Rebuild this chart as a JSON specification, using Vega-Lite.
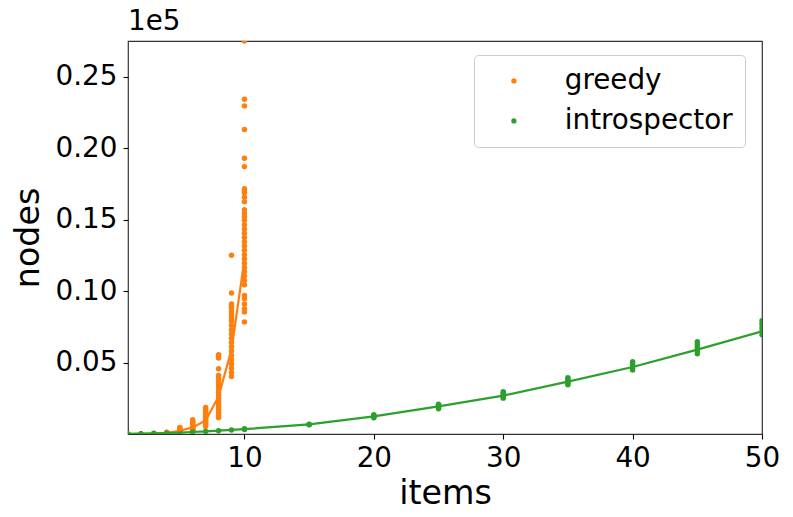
{
  "$schema": "https://vega.github.io/schema/vega-lite/v6.json",
  "width": 634,
  "height": 393,
  "autosize": {"type": "none"},
  "padding": {"left": 128, "top": 41, "right": 31, "bottom": 83},
  "background": "white",
  "config": {
    "font": "DejaVu Sans",
    "view": {"stroke": "#333333", "strokeWidth": 1.2},
    "axis": {
      "grid": false,
      "domain": false,
      "tickColor": "#000000",
      "tickWidth": 1.1,
      "tickSize": 5,
      "labelFont": "DejaVu Sans",
      "labelFontSize": 27.8,
      "labelColor": "#000000",
      "titleFont": "DejaVu Sans",
      "titleFontSize": 33.3,
      "titleFontWeight": "normal",
      "titleColor": "#000000"
    },
    "title": {
      "font": "DejaVu Sans",
      "fontSize": 27.8,
      "fontWeight": "normal",
      "color": "#000000",
      "anchor": "start",
      "frame": "group",
      "baseline": "alphabetic",
      "offset": 5
    }
  },
  "title": {"text": "1e5"},
  "datasets": {
    "points": [
      {"items": 1, "nodes": 1, "algo": "greedy"},
      {"items": 2, "nodes": 3, "algo": "greedy"},
      {"items": 2, "nodes": 5, "algo": "greedy"},
      {"items": 3, "nodes": 10, "algo": "greedy"},
      {"items": 3, "nodes": 15, "algo": "greedy"},
      {"items": 3, "nodes": 20, "algo": "greedy"},
      {"items": 4, "nodes": 40, "algo": "greedy"},
      {"items": 4, "nodes": 60, "algo": "greedy"},
      {"items": 4, "nodes": 80, "algo": "greedy"},
      {"items": 4, "nodes": 100, "algo": "greedy"},
      {"items": 4, "nodes": 130, "algo": "greedy"},
      {"items": 5, "nodes": 150, "algo": "greedy"},
      {"items": 5, "nodes": 180, "algo": "greedy"},
      {"items": 5, "nodes": 220, "algo": "greedy"},
      {"items": 5, "nodes": 260, "algo": "greedy"},
      {"items": 5, "nodes": 300, "algo": "greedy"},
      {"items": 5, "nodes": 350, "algo": "greedy"},
      {"items": 5, "nodes": 420, "algo": "greedy"},
      {"items": 5, "nodes": 460, "algo": "greedy"},
      {"items": 6, "nodes": 180, "algo": "greedy"},
      {"items": 6, "nodes": 250, "algo": "greedy"},
      {"items": 6, "nodes": 300, "algo": "greedy"},
      {"items": 6, "nodes": 350, "algo": "greedy"},
      {"items": 6, "nodes": 400, "algo": "greedy"},
      {"items": 6, "nodes": 450, "algo": "greedy"},
      {"items": 6, "nodes": 500, "algo": "greedy"},
      {"items": 6, "nodes": 550, "algo": "greedy"},
      {"items": 6, "nodes": 600, "algo": "greedy"},
      {"items": 6, "nodes": 650, "algo": "greedy"},
      {"items": 6, "nodes": 700, "algo": "greedy"},
      {"items": 6, "nodes": 800, "algo": "greedy"},
      {"items": 6, "nodes": 900, "algo": "greedy"},
      {"items": 6, "nodes": 1000, "algo": "greedy"},
      {"items": 7, "nodes": 530, "algo": "greedy"},
      {"items": 7, "nodes": 650, "algo": "greedy"},
      {"items": 7, "nodes": 750, "algo": "greedy"},
      {"items": 7, "nodes": 850, "algo": "greedy"},
      {"items": 7, "nodes": 950, "algo": "greedy"},
      {"items": 7, "nodes": 1050, "algo": "greedy"},
      {"items": 7, "nodes": 1150, "algo": "greedy"},
      {"items": 7, "nodes": 1250, "algo": "greedy"},
      {"items": 7, "nodes": 1350, "algo": "greedy"},
      {"items": 7, "nodes": 1450, "algo": "greedy"},
      {"items": 7, "nodes": 1550, "algo": "greedy"},
      {"items": 7, "nodes": 1650, "algo": "greedy"},
      {"items": 7, "nodes": 1750, "algo": "greedy"},
      {"items": 7, "nodes": 1860, "algo": "greedy"},
      {"items": 8, "nodes": 1140, "algo": "greedy"},
      {"items": 8, "nodes": 1300, "algo": "greedy"},
      {"items": 8, "nodes": 1500, "algo": "greedy"},
      {"items": 8, "nodes": 1700, "algo": "greedy"},
      {"items": 8, "nodes": 1900, "algo": "greedy"},
      {"items": 8, "nodes": 2100, "algo": "greedy"},
      {"items": 8, "nodes": 2300, "algo": "greedy"},
      {"items": 8, "nodes": 2500, "algo": "greedy"},
      {"items": 8, "nodes": 2700, "algo": "greedy"},
      {"items": 8, "nodes": 2900, "algo": "greedy"},
      {"items": 8, "nodes": 3100, "algo": "greedy"},
      {"items": 8, "nodes": 3300, "algo": "greedy"},
      {"items": 8, "nodes": 3500, "algo": "greedy"},
      {"items": 8, "nodes": 3700, "algo": "greedy"},
      {"items": 8, "nodes": 3900, "algo": "greedy"},
      {"items": 8, "nodes": 4100, "algo": "greedy"},
      {"items": 8, "nodes": 4570, "algo": "greedy"},
      {"items": 8, "nodes": 5320, "algo": "greedy"},
      {"items": 8, "nodes": 5450, "algo": "greedy"},
      {"items": 8, "nodes": 5550, "algo": "greedy"},
      {"items": 9, "nodes": 4030, "algo": "greedy"},
      {"items": 9, "nodes": 4300, "algo": "greedy"},
      {"items": 9, "nodes": 4600, "algo": "greedy"},
      {"items": 9, "nodes": 4900, "algo": "greedy"},
      {"items": 9, "nodes": 5200, "algo": "greedy"},
      {"items": 9, "nodes": 5500, "algo": "greedy"},
      {"items": 9, "nodes": 5800, "algo": "greedy"},
      {"items": 9, "nodes": 6100, "algo": "greedy"},
      {"items": 9, "nodes": 6400, "algo": "greedy"},
      {"items": 9, "nodes": 6700, "algo": "greedy"},
      {"items": 9, "nodes": 7000, "algo": "greedy"},
      {"items": 9, "nodes": 7300, "algo": "greedy"},
      {"items": 9, "nodes": 7600, "algo": "greedy"},
      {"items": 9, "nodes": 7900, "algo": "greedy"},
      {"items": 9, "nodes": 8120, "algo": "greedy"},
      {"items": 9, "nodes": 8350, "algo": "greedy"},
      {"items": 9, "nodes": 8560, "algo": "greedy"},
      {"items": 9, "nodes": 8820, "algo": "greedy"},
      {"items": 9, "nodes": 8950, "algo": "greedy"},
      {"items": 9, "nodes": 9100, "algo": "greedy"},
      {"items": 9, "nodes": 9870, "algo": "greedy"},
      {"items": 9, "nodes": 12500, "algo": "greedy"},
      {"items": 10, "nodes": 7840, "algo": "greedy"},
      {"items": 10, "nodes": 8540, "algo": "greedy"},
      {"items": 10, "nodes": 8770, "algo": "greedy"},
      {"items": 10, "nodes": 9100, "algo": "greedy"},
      {"items": 10, "nodes": 9470, "algo": "greedy"},
      {"items": 10, "nodes": 9700, "algo": "greedy"},
      {"items": 10, "nodes": 10450, "algo": "greedy"},
      {"items": 10, "nodes": 10750, "algo": "greedy"},
      {"items": 10, "nodes": 11050, "algo": "greedy"},
      {"items": 10, "nodes": 11350, "algo": "greedy"},
      {"items": 10, "nodes": 11650, "algo": "greedy"},
      {"items": 10, "nodes": 11950, "algo": "greedy"},
      {"items": 10, "nodes": 12250, "algo": "greedy"},
      {"items": 10, "nodes": 12550, "algo": "greedy"},
      {"items": 10, "nodes": 12850, "algo": "greedy"},
      {"items": 10, "nodes": 13150, "algo": "greedy"},
      {"items": 10, "nodes": 13450, "algo": "greedy"},
      {"items": 10, "nodes": 13750, "algo": "greedy"},
      {"items": 10, "nodes": 14050, "algo": "greedy"},
      {"items": 10, "nodes": 14350, "algo": "greedy"},
      {"items": 10, "nodes": 14650, "algo": "greedy"},
      {"items": 10, "nodes": 14950, "algo": "greedy"},
      {"items": 10, "nodes": 15200, "algo": "greedy"},
      {"items": 10, "nodes": 15440, "algo": "greedy"},
      {"items": 10, "nodes": 15700, "algo": "greedy"},
      {"items": 10, "nodes": 16260, "algo": "greedy"},
      {"items": 10, "nodes": 16560, "algo": "greedy"},
      {"items": 10, "nodes": 16890, "algo": "greedy"},
      {"items": 10, "nodes": 17030, "algo": "greedy"},
      {"items": 10, "nodes": 17170, "algo": "greedy"},
      {"items": 10, "nodes": 18710, "algo": "greedy"},
      {"items": 10, "nodes": 19290, "algo": "greedy"},
      {"items": 10, "nodes": 21300, "algo": "greedy"},
      {"items": 10, "nodes": 22960, "algo": "greedy"},
      {"items": 10, "nodes": 23420, "algo": "greedy"},
      {"items": 10, "nodes": 27500, "algo": "greedy"},
      {"items": 1, "nodes": 9, "algo": "introspector"},
      {"items": 2, "nodes": 24, "algo": "introspector"},
      {"items": 3, "nodes": 45, "algo": "introspector"},
      {"items": 4, "nodes": 71, "algo": "introspector"},
      {"items": 5, "nodes": 102, "algo": "introspector"},
      {"items": 6, "nodes": 139, "algo": "introspector"},
      {"items": 7, "nodes": 181, "algo": "introspector"},
      {"items": 8, "nodes": 230, "algo": "introspector"},
      {"items": 9, "nodes": 283, "algo": "introspector"},
      {"items": 10, "nodes": 320, "algo": "introspector"},
      {"items": 10, "nodes": 360, "algo": "introspector"},
      {"items": 15, "nodes": 650, "algo": "introspector"},
      {"items": 15, "nodes": 670, "algo": "introspector"},
      {"items": 15, "nodes": 690, "algo": "introspector"},
      {"items": 20, "nodes": 1140, "algo": "introspector"},
      {"items": 20, "nodes": 1190, "algo": "introspector"},
      {"items": 20, "nodes": 1240, "algo": "introspector"},
      {"items": 20, "nodes": 1290, "algo": "introspector"},
      {"items": 20, "nodes": 1350, "algo": "introspector"},
      {"items": 25, "nodes": 1770, "algo": "introspector"},
      {"items": 25, "nodes": 1850, "algo": "introspector"},
      {"items": 25, "nodes": 1930, "algo": "introspector"},
      {"items": 25, "nodes": 2010, "algo": "introspector"},
      {"items": 25, "nodes": 2090, "algo": "introspector"},
      {"items": 30, "nodes": 2510, "algo": "introspector"},
      {"items": 30, "nodes": 2620, "algo": "introspector"},
      {"items": 30, "nodes": 2730, "algo": "introspector"},
      {"items": 30, "nodes": 2850, "algo": "introspector"},
      {"items": 30, "nodes": 2960, "algo": "introspector"},
      {"items": 35, "nodes": 3450, "algo": "introspector"},
      {"items": 35, "nodes": 3570, "algo": "introspector"},
      {"items": 35, "nodes": 3690, "algo": "introspector"},
      {"items": 35, "nodes": 3820, "algo": "introspector"},
      {"items": 35, "nodes": 3940, "algo": "introspector"},
      {"items": 40, "nodes": 4470, "algo": "introspector"},
      {"items": 40, "nodes": 4620, "algo": "introspector"},
      {"items": 40, "nodes": 4760, "algo": "introspector"},
      {"items": 40, "nodes": 4910, "algo": "introspector"},
      {"items": 40, "nodes": 5060, "algo": "introspector"},
      {"items": 45, "nodes": 5620, "algo": "introspector"},
      {"items": 45, "nodes": 5830, "algo": "introspector"},
      {"items": 45, "nodes": 6040, "algo": "introspector"},
      {"items": 45, "nodes": 6250, "algo": "introspector"},
      {"items": 45, "nodes": 6460, "algo": "introspector"},
      {"items": 50, "nodes": 6950, "algo": "introspector"},
      {"items": 50, "nodes": 7200, "algo": "introspector"},
      {"items": 50, "nodes": 7440, "algo": "introspector"},
      {"items": 50, "nodes": 7690, "algo": "introspector"},
      {"items": 50, "nodes": 7930, "algo": "introspector"}
    ],
    "lines": [
      {"items": 1, "nodes": 1, "algo": "greedy"},
      {"items": 2, "nodes": 4, "algo": "greedy"},
      {"items": 3, "nodes": 15, "algo": "greedy"},
      {"items": 4, "nodes": 80, "algo": "greedy"},
      {"items": 5, "nodes": 230, "algo": "greedy"},
      {"items": 6, "nodes": 460, "algo": "greedy"},
      {"items": 7, "nodes": 950, "algo": "greedy"},
      {"items": 8, "nodes": 2630, "algo": "greedy"},
      {"items": 9, "nodes": 5900, "algo": "greedy"},
      {"items": 10, "nodes": 12200, "algo": "greedy"},
      {"items": 1, "nodes": 9, "algo": "introspector"},
      {"items": 2, "nodes": 24, "algo": "introspector"},
      {"items": 3, "nodes": 45, "algo": "introspector"},
      {"items": 4, "nodes": 71, "algo": "introspector"},
      {"items": 5, "nodes": 102, "algo": "introspector"},
      {"items": 6, "nodes": 139, "algo": "introspector"},
      {"items": 7, "nodes": 181, "algo": "introspector"},
      {"items": 8, "nodes": 230, "algo": "introspector"},
      {"items": 9, "nodes": 283, "algo": "introspector"},
      {"items": 10, "nodes": 342, "algo": "introspector"},
      {"items": 15, "nodes": 670, "algo": "introspector"},
      {"items": 20, "nodes": 1230, "algo": "introspector"},
      {"items": 25, "nodes": 1930, "algo": "introspector"},
      {"items": 30, "nodes": 2680, "algo": "introspector"},
      {"items": 35, "nodes": 3660, "algo": "introspector"},
      {"items": 40, "nodes": 4690, "algo": "introspector"},
      {"items": 45, "nodes": 5900, "algo": "introspector"},
      {"items": 50, "nodes": 7180, "algo": "introspector"}
    ]
  },
  "encoding": {
    "x": {
      "field": "items",
      "type": "quantitative",
      "scale": {"domain": [1, 50], "nice": false, "zero": false},
      "axis": {"values": [10, 20, 30, 40, 50], "labelPadding": 5, "titlePadding": 6, "labelFlush": false},
      "title": "items"
    },
    "y": {
      "field": "nodes",
      "type": "quantitative",
      "scale": {"domain": [0, 27500], "nice": false},
      "axis": {
        "values": [5000, 10000, 15000, 20000, 25000],
        "labelExpr": "format(datum.value / 100000, '.2f')",
        "labelPadding": 6,
        "titlePadding": 10,
        "labelFlush": false
      },
      "title": "nodes"
    }
  },
  "layer": [
    {
      "data": {"name": "points"},
      "mark": {"type": "circle", "size": 30, "opacity": 1, "clip": true},
      "encoding": {
        "color": {
          "field": "algo",
          "type": "nominal",
          "scale": {"domain": ["greedy", "introspector"], "range": ["#ff7f0e", "#2ca02c"]},
          "legend": {
            "title": null,
            "orient": "none",
            "legendX": 346,
            "legendY": 14,
            "padding": 12,
            "rowPadding": 11,
            "symbolType": "circle",
            "symbolSize": 14,
            "symbolOffset": 14,
            "labelOffset": 37,
            "labelLimit": 0,
            "labelFont": "DejaVu Sans",
            "labelFontSize": 27.8,
            "labelColor": "#000000",
            "fillColor": "white",
            "strokeColor": "#cccccc",
            "cornerRadius": 4
          }
        }
      }
    },
    {
      "data": {"name": "lines"},
      "mark": {"type": "line", "strokeWidth": 2.2, "clip": true},
      "encoding": {
        "color": {
          "field": "algo",
          "type": "nominal",
          "scale": {"domain": ["greedy", "introspector"], "range": ["#ff7f0e", "#2ca02c"]},
          "legend": null
        }
      }
    }
  ]
}
